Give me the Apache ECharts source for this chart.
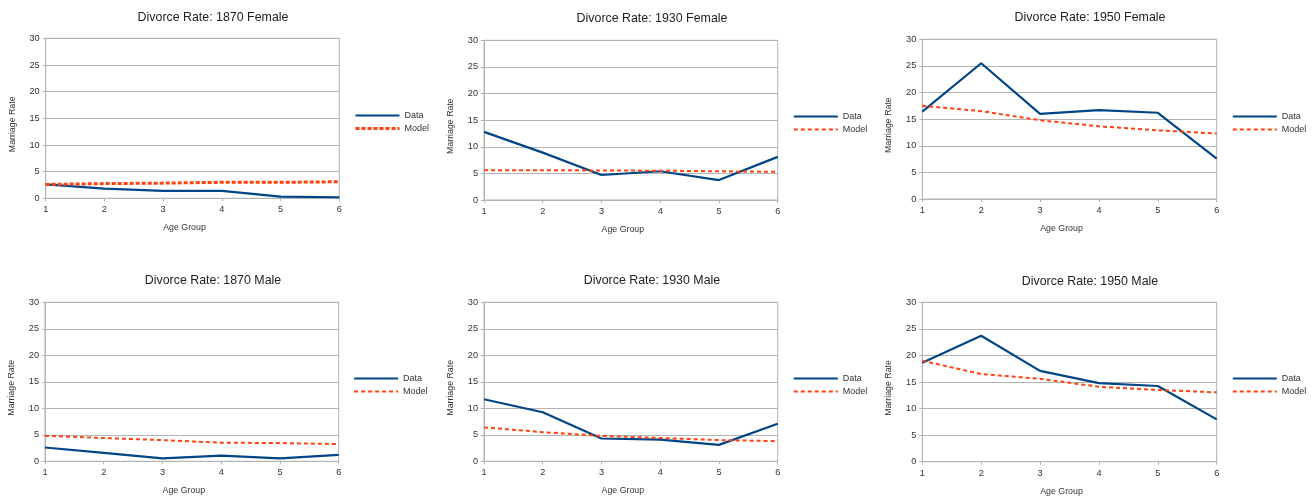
<!DOCTYPE html>
<html>
<head>
<meta charset="utf-8">
<script src="https://cdn.jsdelivr.net/npm/echarts@6/dist/echarts.min.js"></script>
<style>html,body{margin:0;padding:0;background:#fff;}#c{width:1315px;height:500px;}</style>
</head>
<body>
<div id="c"></div>
<script>
var ageGroups = ['1', '2', '3', '4', '5', '6'];
var titles = ['Divorce Rate: 1870 Female', 'Divorce Rate: 1930 Female', 'Divorce Rate: 1950 Female',
              'Divorce Rate: 1870 Male', 'Divorce Rate: 1930 Male', 'Divorce Rate: 1950 Male'];
var data1870F  = [2.6, 1.8, 1.4, 1.4, 0.3, 0.2];
var model1870F = [2.6, 2.75, 2.85, 3.0, 3.0, 3.1];
var data1930F  = [12.8, 8.9, 4.7, 5.4, 3.75, 8.1];
var model1930F = [5.6, 5.6, 5.55, 5.5, 5.4, 5.3];
var data1950F  = [16.4, 25.5, 16.0, 16.7, 16.2, 7.6];
var model1950F = [17.5, 16.5, 14.8, 13.65, 12.9, 12.3];
var data1870M  = [2.6, 1.6, 0.55, 1.07, 0.55, 1.2];
var model1870M = [4.8, 4.4, 4.0, 3.5, 3.45, 3.25];
var data1930M  = [11.7, 9.25, 4.3, 4.1, 3.1, 7.1];
var model1930M = [6.4, 5.5, 4.8, 4.4, 4.0, 3.8];
var data1950M  = [18.6, 23.7, 17.1, 14.8, 14.25, 7.97];
var model1950M = [19.0, 16.5, 15.6, 14.1, 13.5, 13.05];
var yTicks = [0, 5, 10, 15, 20, 25, 30];

var dataSets = [data1870F, data1930F, data1950F, data1870M, data1930M, data1950M];
var modelSets = [model1870F, model1930F, model1950F, model1870M, model1930M, model1950M];

var FONT = 'Liberation Sans';
var GRAY = '#b3b3b3';
var BLUE = '#004586';
var ORANGE = '#ff420e';

var panels = [
  {gl: 45.7, gt: 38.3, gw: 293.6, gh: 160, tx: 213, ty: 17.5, lx: 354, ly: 111, thick: true},
  {gl: 484, gt: 40.3, gw: 293.7, gh: 159.7, tx: 652, ty: 18.5, lx: 792.7, ly: 112, thick: false},
  {gl: 922.3, gt: 39.3, gw: 294.4, gh: 159.7, tx: 1090, ty: 17.5, lx: 1231.7, ly: 112, thick: false},
  {gl: 45, gt: 302.3, gw: 293.7, gh: 159, tx: 213, ty: 280.5, lx: 353, ly: 374, thick: false},
  {gl: 484, gt: 302.3, gw: 293.7, gh: 159, tx: 652, ty: 280.5, lx: 792.7, ly: 374, thick: false},
  {gl: 922.3, gt: 302.3, gw: 294.4, gh: 159.4, tx: 1090, ty: 281.5, lx: 1231.7, ly: 374, thick: false}
];

var option = {
  backgroundColor: '#fff',
  animation: false,
  textStyle: {fontFamily: FONT},
  title: [], grid: [], xAxis: [], yAxis: [], legend: [], series: []
};

panels.forEach(function (p, i) {
  var mw = p.thick ? 3 : 2;
  var mdash = p.thick ? [4, 2] : [4, 3];
  option.title.push({
    text: titles[i], left: p.tx, top: p.ty, padding: 0,
    textAlign: 'center', textVerticalAlign: 'middle',
    textStyle: {fontFamily: FONT, fontSize: 12.4, fontWeight: 'normal', color: '#222'}
  });
  option.grid.push({
    left: p.gl, top: p.gt, width: p.gw, height: p.gh,
    show: true, borderColor: GRAY, borderWidth: 1, backgroundColor: 'transparent',
    containLabel: false
  });
  option.xAxis.push({
    gridIndex: i, type: 'category', data: ageGroups, boundaryGap: false,
    name: 'Age Group', nameLocation: 'middle', nameGap: 25,
    nameTextStyle: {fontFamily: FONT, fontSize: 8.8, color: '#333', padding: [0, 16, 0, 0]},
    axisLine: {show: true, lineStyle: {color: GRAY, width: 1}},
    axisTick: {show: true, length: 3, alignWithLabel: true, lineStyle: {color: GRAY}},
    axisLabel: {fontFamily: FONT, fontSize: 9.2, color: '#333', margin: 7},
    splitLine: {show: false}
  });
  option.yAxis.push({
    gridIndex: i, type: 'value', min: 0, max: 30, interval: 5,
    name: 'Marriage Rate', nameLocation: 'middle', nameGap: 29,
    nameTextStyle: {fontFamily: FONT, fontSize: 8.8, color: '#333', padding: [0, 12, 0, 0]},
    axisLine: {show: true, lineStyle: {color: GRAY, width: 1}},
    axisTick: {show: true, length: 3, lineStyle: {color: GRAY}},
    axisLabel: {fontFamily: FONT, fontSize: 9.2, color: '#333', margin: 6,
      formatter: function (v) { return yTicks.indexOf(v) >= 0 ? String(v) : ''; }},
    splitLine: {show: true, lineStyle: {color: GRAY, width: 1}}
  });
  option.legend.push({
    orient: 'vertical', left: p.lx, top: p.ly, padding: 0,
    itemWidth: 44, itemHeight: 10, itemGap: 4,
    textStyle: {fontFamily: FONT, fontSize: 9, color: '#333'},
    data: [
      {name: 'Data', itemStyle: {opacity: 0, color: 'transparent', borderWidth: 0},
       lineStyle: {color: BLUE, width: 2.2, type: 'solid'}},
      {name: 'Model', itemStyle: {opacity: 0, color: 'transparent', borderWidth: 0},
       lineStyle: {color: ORANGE, width: mw, type: mdash}}
    ]
  });
  option.series.push({
    name: 'Data', type: 'line', xAxisIndex: i, yAxisIndex: i,
    data: dataSets[i], showSymbol: false, symbol: 'none',
    lineStyle: {color: BLUE, width: 2.2}, itemStyle: {color: BLUE}
  });
  option.series.push({
    name: 'Model', type: 'line', xAxisIndex: i, yAxisIndex: i,
    data: modelSets[i], showSymbol: false, symbol: 'none',
    lineStyle: {color: ORANGE, width: mw, type: mdash}, itemStyle: {color: ORANGE}
  });
});

var chart = echarts.init(document.getElementById('c'), null, {renderer: 'canvas'});
chart.setOption(option);
</script>
</body>
</html>
